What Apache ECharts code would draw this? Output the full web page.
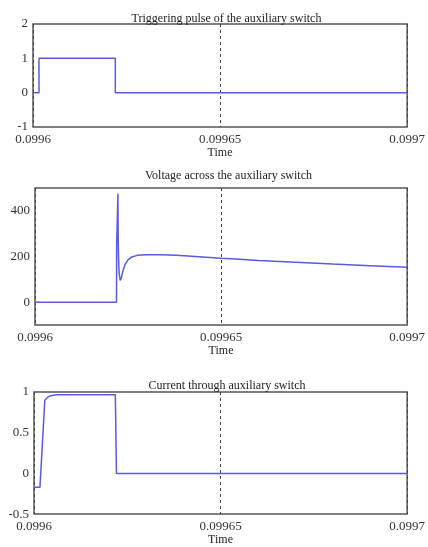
<!DOCTYPE html>
<html>
<head>
<meta charset="utf-8">
<script src="https://cdn.jsdelivr.net/npm/echarts@6/dist/echarts.min.js"></script>
<style>
  html, body { margin: 0; padding: 0; background: #fff; }
  #chart { width: 428px; height: 547px; }
</style>
</head>
<body>
<div id="chart"></div>
<script>
// time ticks (s)
const timeTicks = [0.0996, 0.09965, 0.0997]

// triggering pulse
const pulseTime = [0.0996, 0.0996016, 0.0996016, 0.099622, 0.099622, 0.0997]
const pulseValue = [0, 0, 1, 1, 0, 0]

// voltage across the auxiliary switch
const voltTime = [0.0996, 0.0996219, 0.09962195, 0.09962228, 0.09962235, 0.09962245, 0.0996226,
  0.0996229, 0.0996232, 0.0996236, 0.0996242, 0.099625, 0.099626, 0.0996275, 0.09963,
  0.099634, 0.099638, 0.099645, 0.09965, 0.099655, 0.09966,
  0.09967, 0.09968, 0.09969, 0.0997]
const voltValue = [0, 0, 250, 475, 280, 200, 130,
  95, 105, 135, 165, 185, 198, 205, 208,
  208, 205, 198, 192, 188, 183,
  175, 167, 160, 153]

// current through auxiliary switch
const currTime = [0.0996, 0.0996016, 0.0996029, 0.0996035, 0.0996045, 0.099606, 0.0996218, 0.0996221, 0.0997]
const currValue = [-0.17, -0.17, 0.9, 0.93, 0.955, 0.967, 0.967, 0, 0]

const titles = [
  'Triggering pulse of the auxiliary switch',
  'Voltage across the auxiliary switch',
  'Current through auxiliary switch'
]

const chart = echarts.init(document.getElementById('chart'))

const lineColor = '#5a5ae0'
const font = 'Liberation Serif'

const grids = [
  { left: 33, top: 24, width: 377, height: 103 },
  { left: 35, top: 188, width: 377, height: 137 },
  { left: 34, top: 392, width: 376, height: 124 }
]

const xAxisBase = (i) => ({
  type: 'value',
  gridIndex: i,
  min: timeTicks[0],
  max: timeTicks[2],
  interval: timeTicks[1] - timeTicks[0],
  name: 'Time',
  nameLocation: 'middle',
  nameGap: 19,
  nameTextStyle: { fontFamily: font, fontSize: 12, color: '#222' },
  axisLine: { show: false },
  axisTick: { show: false },
  axisLabel: {
    fontFamily: font, fontSize: 13, color: '#333', margin: 6,
    formatter: v => String(+v.toFixed(5))
  },
  splitLine: { show: true, lineStyle: { color: '#444', type: [3, 3], width: 1 } }
})

const yAxisBase = (i, min, max, interval, formatter) => ({
  type: 'value',
  gridIndex: i,
  min: min,
  max: max,
  interval: interval,
  axisLine: { show: false },
  axisTick: { show: false },
  splitLine: { show: false },
  axisLabel: {
    fontFamily: font, fontSize: 13, color: '#333', margin: 5,
    formatter: formatter
  }
})

const zip = (xs, ys) => xs.map((x, k) => [x, ys[k]])

const option = {
  backgroundColor: '#fff',
  animation: false,
  title: titles.map((t, i) => ({
    text: t,
    left: grids[i].left + grids[i].width / 2,
    top: [8, 165, 375][i],
    textAlign: 'center',
    textStyle: { fontFamily: font, fontSize: 12, fontWeight: 'normal', color: '#222' }
  })),
  grid: grids.map(g => ({ ...g, show: true, borderColor: '#555', borderWidth: 1.5, backgroundColor: 'transparent' })),
  xAxis: [xAxisBase(0), xAxisBase(1), xAxisBase(2)],
  yAxis: [
    yAxisBase(0, -1, 2, 1, v => String(v)),
    yAxisBase(1, -100, 500, 100, v => (v === 0 || v === 200 || v === 400) ? String(v) : ''),
    yAxisBase(2, -0.5, 1, 0.5, v => String(v))
  ],
  series: [
    { type: 'line', xAxisIndex: 0, yAxisIndex: 0, data: zip(pulseTime, pulseValue) },
    { type: 'line', xAxisIndex: 1, yAxisIndex: 1, data: zip(voltTime, voltValue) },
    { type: 'line', xAxisIndex: 2, yAxisIndex: 2, data: zip(currTime, currValue) }
  ].map(s => ({
    ...s,
    showSymbol: false,
    symbol: 'none',
    lineStyle: { color: lineColor, width: 1.5 },
    itemStyle: { color: lineColor }
  }))
}

chart.setOption(option)
</script>
</body>
</html>
